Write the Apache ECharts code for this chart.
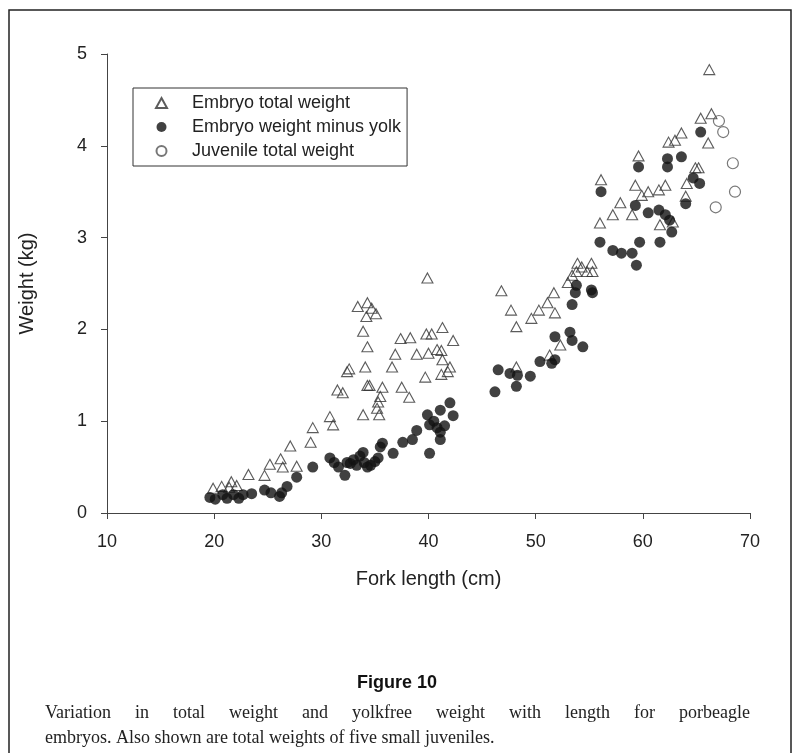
<!DOCTYPE html>
<html>
<head>
<meta charset="utf-8">
<script src="https://cdn.jsdelivr.net/npm/echarts@6/dist/echarts.min.js"></script>
<style>
html,body{margin:0;padding:0;background:#fff;}
#chart{width:794px;height:753px;}
</style>
</head>
<body>
<div id="chart"></div>
<script>
// ---- data (fork length cm, weight kg) ----
const embryoTotal = [
  [19.9,0.27],[20.7,0.29],[21.4,0.28],[21.6,0.34],[22.1,0.30],[23.2,0.42],[24.7,0.41],[25.2,0.53],
  [26.2,0.59],[26.4,0.50],[27.7,0.51],[27.1,0.73],[29.0,0.77],[29.2,0.93],[30.8,1.05],[31.1,0.96],
  [31.5,1.34],[32.0,1.31],[33.9,1.07],[34.3,1.39],
  [39.9,2.56],[33.4,2.25],[34.3,2.29],[34.7,2.23],[35.1,2.17],[34.2,2.14],[33.9,1.98],[34.3,1.81],
  [34.1,1.59],[32.6,1.57],[32.4,1.54],[34.5,1.39],[35.7,1.37],[35.5,1.27],[35.3,1.21],[35.2,1.14],
  [35.4,1.07],[37.4,1.90],[38.3,1.91],[36.9,1.73],[36.6,1.59],[38.9,1.73],[39.8,1.95],[40.3,1.95],
  [41.3,2.02],[42.3,1.88],[40.0,1.74],[40.8,1.78],[41.2,1.77],[41.3,1.67],[42.0,1.59],[41.8,1.54],
  [41.2,1.51],[39.7,1.48],[37.5,1.37],[38.2,1.26],
  [46.8,2.42],[47.7,2.21],[48.2,2.03],[49.6,2.12],[50.3,2.21],[51.1,2.29],[51.7,2.40],[51.8,2.18],
  [52.3,1.83],[51.3,1.72],[48.2,1.59],[53.4,2.59],[53.0,2.51],[53.8,2.63],[53.9,2.72],[54.8,2.63],
  [55.3,2.63],[55.2,2.72],[54.3,2.68],
  [66.2,4.83],[65.4,4.30],[66.4,4.35],[66.1,4.03],[63.6,4.14],[62.4,4.04],[63.0,4.06],[59.6,3.89],
  [64.9,3.76],[65.2,3.76],[64.1,3.59],[64.0,3.45],[56.1,3.63],[59.3,3.57],[59.9,3.46],[60.5,3.50],
  [61.5,3.52],[62.1,3.57],[57.9,3.38],[57.2,3.25],[59.0,3.25],[56.0,3.16],[61.6,3.14],[62.8,3.17]
];
const embryoMinusYolk = [
  [19.6,0.17],[20.1,0.15],[20.8,0.20],[21.2,0.16],[21.8,0.20],[22.3,0.16],[22.7,0.20],[23.5,0.21],
  [24.7,0.25],[25.3,0.22],[26.1,0.18],[26.3,0.22],[26.8,0.29],[27.7,0.39],[29.2,0.50],[30.8,0.60],
  [32.2,0.41],[32.7,0.54],[33.9,0.66],[34.3,0.50],
  [31.2,0.55],[31.6,0.50],[32.4,0.55],[33.0,0.58],[33.3,0.52],[33.6,0.62],[34.0,0.55],[34.6,0.52],
  [35.0,0.56],[35.3,0.60],[35.5,0.72],[35.7,0.76],[36.7,0.65],[37.6,0.77],[38.5,0.80],[38.9,0.90],
  [39.9,1.07],[40.1,0.96],[40.1,0.65],[41.1,1.12],[41.1,0.88],[41.1,0.80],[42.0,1.20],[42.3,1.06],
  [40.5,1.00],[40.8,0.93],[41.5,0.95],
  [46.5,1.56],[46.2,1.32],[47.6,1.52],[48.3,1.50],[49.5,1.49],[48.2,1.38],[50.4,1.65],[51.5,1.63],
  [51.8,1.67],[51.8,1.92],[53.2,1.97],[53.4,1.88],[54.4,1.81],[53.8,2.48],[53.7,2.40],[55.2,2.43],
  [55.3,2.40],[53.4,2.27],
  [56.1,3.50],[59.6,3.77],[62.3,3.86],[63.6,3.88],[62.3,3.77],[65.4,4.15],[64.7,3.65],[65.3,3.59],
  [59.3,3.35],[60.5,3.27],[61.5,3.30],[62.1,3.25],[62.5,3.19],[64.0,3.37],[62.7,3.06],[61.6,2.95],
  [56.0,2.95],[57.2,2.86],[58.0,2.83],[59.0,2.83],[59.7,2.95],[59.4,2.70]
];
const juvenileTotal = [[67.1,4.27],[67.5,4.15],[68.4,3.81],[68.6,3.50],[66.8,3.33]];

const seriesNames = ['Embryo total weight','Embryo weight minus yolk','Juvenile total weight'];
const xTicks = [10,20,30,40,50,60,70];
const yTicks = [0,1,2,3,4,5];
const xTitle = 'Fork length (cm)';
const yTitle = 'Weight (kg)';
const figTitle = 'Figure 10';
const caption1 = 'Variation in total weight and yolkfree weight with length for porbeagle';
const caption2 = 'embryos. Also shown are total weights of five small juveniles.';

// ---- layout ----
const sans = "'Liberation Sans', Arial, sans-serif";
const serif = "'Liberation Serif', 'DejaVu Serif', serif";
const capFont = "18px " + serif;

function measure(txt, font){
  const c = document.createElement('canvas').getContext('2d');
  c.font = font; return c.measureText(txt).width;
}
// justified first caption line
const capLeft = 45, capRight = 750;
const words = caption1.split(' ');
const wW = words.map(w => measure(w, capFont));
const gap = (capRight - capLeft - wW.reduce((a,b)=>a+b,0)) / (words.length - 1);
const capGraphics = [];
let cx = capLeft;
words.forEach((w,i) => {
  capGraphics.push({type:'text', x:cx, y:713, style:{text:w, font:capFont, fill:'#222', textVerticalAlign:'middle', verticalAlign:'middle'}});
  cx += wW[i] + gap;
});
capGraphics.push({type:'text', x:capLeft, y:738, style:{text:caption2, font:capFont, fill:'#222', textVerticalAlign:'middle', verticalAlign:'middle'}});

const chart = echarts.init(document.getElementById('chart'), null, {renderer:'canvas'});
const axisCol = '#444';
chart.setOption({
  backgroundColor:'#fff',
  animation:false,
  grid:{left:107, right:44, top:54, bottom:240, containLabel:false},
  xAxis:{
    type:'value', min:xTicks[0], max:xTicks[xTicks.length-1], interval:10,
    name:xTitle, nameLocation:'middle', nameGap:56,
    nameTextStyle:{fontFamily:sans, fontSize:20, color:'#222'},
    axisLine:{show:true, onZero:false, lineStyle:{color:axisCol, width:1}},
    axisTick:{show:true, length:6, lineStyle:{color:axisCol}},
    axisLabel:{fontFamily:sans, fontSize:18, color:'#222', margin:20},
    splitLine:{show:false}
  },
  yAxis:{
    type:'value', min:yTicks[0], max:yTicks[yTicks.length-1], interval:1,
    name:yTitle, nameLocation:'middle', nameGap:70,
    nameTextStyle:{fontFamily:sans, fontSize:20, color:'#222'},
    axisLine:{show:true, onZero:false, lineStyle:{color:axisCol, width:1}},
    axisTick:{show:true, length:6, lineStyle:{color:axisCol}},
    axisLabel:{fontFamily:sans, fontSize:18, color:'#222', margin:20},
    splitLine:{show:false}
  },
  legend:{
    orient:'vertical', left:133, top:88,
    padding:[6,6,6,22], itemGap:6, itemWidth:11, itemHeight:10,
    borderColor:'#333', borderWidth:1,
    textStyle:{fontFamily:sans, fontSize:18, color:'#222', lineHeight:15, padding:[0,0,0,20]},
    data:seriesNames
  },
  series:[
    {name:seriesNames[0], type:'scatter', data:embryoTotal, symbol:'triangle', symbolSize:[11,10],
     itemStyle:{color:'rgba(255,255,255,0)', borderColor:'#333', borderWidth:1.1}},
    {name:seriesNames[1], type:'scatter', data:embryoMinusYolk, symbol:'circle', symbolSize:11,
     itemStyle:{color:'#111', borderColor:'#111', borderWidth:0}},
    {name:seriesNames[2], type:'scatter', data:juvenileTotal, symbol:'circle', symbolSize:11,
     itemStyle:{color:'rgba(255,255,255,0)', borderColor:'#555', borderWidth:1.2}}
  ],
  graphic:[
    {type:'rect', shape:{x:9, y:10, width:782, height:760}, style:{fill:'none', stroke:'#222', lineWidth:1.5}, silent:true},
    {type:'text', left:'center', top:674, style:{text:figTitle, font:"bold 18px " + sans, fill:'#111'}},
    ...capGraphics
  ]
});
</script>
</body>
</html>
